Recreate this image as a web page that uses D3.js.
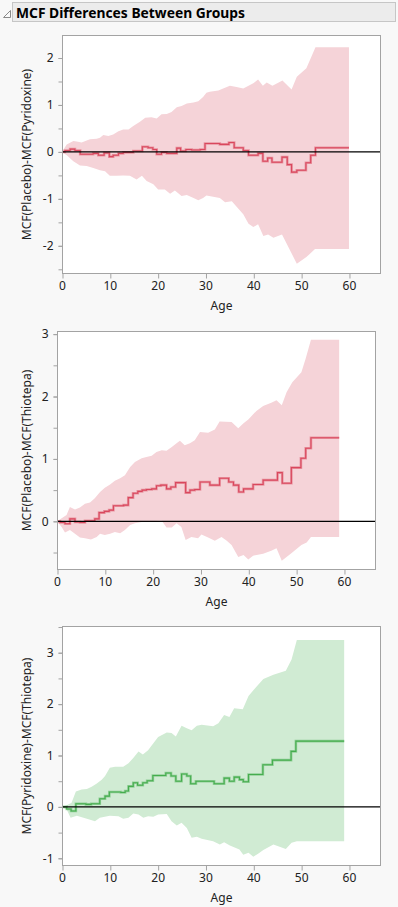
<!DOCTYPE html>
<html>
<head>
<meta charset="utf-8">
<script src="https://cdn.jsdelivr.net/npm/d3@7"></script>
<style>
  html, body { margin: 0; padding: 0; background: #f8f8f8; }
  svg { display: block; }
  text { font-family: "Noto Sans", "Open Sans", sans-serif; }
</style>
</head>
<body>
<svg id="chart" width="398" height="907"></svg>
<script>
// ---------------- DATA ----------------
const title = "MCF Differences Between Groups";
const xLabel = "Age";
const yLabels = ["MCF(Placebo)-MCF(Pyridoxine)", "MCF(Placebo)-MCF(Thiotepa)", "MCF(Pyridoxine)-MCF(Thiotepa)"];
const xTicks = [0, 10, 20, 30, 40, 50, 60];
const yTicks1 = [-2, -1, 0, 1, 2];
const yTicks2 = [0, 1, 2, 3];
const yTicks3 = [-1, 0, 1, 2, 3];

// Panel 1: Placebo - Pyridoxine
const mean1 = [[0,0],[0.6,0.03],[1.7,0.06],[2.7,0.03],[3.8,-0.05],[6.5,-0.03],[7.6,-0.07],[8.8,-0.02],[9.9,-0.1],[10.7,-0.07],[11.8,-0.03],[12.8,-0.01],[14.9,0.02],[16.8,0.11],[18.0,0.09],[19.0,0.05],[19.8,-0.05],[20.8,-0.01],[21.9,-0.03],[24.0,0.08],[24.8,0.02],[25.9,0.05],[27.1,0.04],[28.9,0.05],[29.9,0.18],[33.0,0.16],[34.9,0.2],[36.0,0.09],[37.9,0.03],[39.0,-0.07],[41.0,-0.03],[42.0,-0.2],[43.0,-0.13],[43.9,-0.22],[46.0,-0.11],[47.1,-0.27],[48.0,-0.43],[49.1,-0.39],[51.0,-0.23],[52.0,-0.07],[53.0,0.09],[60.0,0.09]];
const upper1 = [[0,0],[0.98,0.16],[2.37,0.23],[3.07,0.22],[4.1,0.2],[5.16,0.245],[5.85,0.27],[7.25,0.28],[7.94,0.30],[8.64,0.36],[9.69,0.34],[10.7,0.37],[11.8,0.44],[12.8,0.48],[13.9,0.48],[14.9,0.55],[16.3,0.64],[17.4,0.73],[18.7,0.74],[19.8,0.71],[20.8,0.80],[21.9,0.81],[22.9,0.85],[24.0,0.95],[25.0,0.98],[26.1,1.03],[27.5,1.05],[28.5,1.08],[29.5,1.17],[30.2,1.26],[30.9,1.28],[32.7,1.31],[33.7,1.35],[35.1,1.41],[36.5,1.38],[37.9,1.35],[40.0,1.46],[41.0,1.54],[42.0,1.41],[42.8,1.48],[44.0,1.41],[46.1,1.52],[48.0,1.33],[49.1,1.6],[51.1,1.78],[53.0,2.23],[60.0,2.23]];
const lower1 = [[0,0],[1.0,-0.07],[2.37,-0.2],[3.76,-0.29],[5.16,-0.30],[6.55,-0.34],[7.94,-0.39],[9.0,-0.41],[10.0,-0.51],[11.4,-0.51],[12.8,-0.50],[14.2,-0.51],[15.6,-0.59],[16.7,-0.51],[17.7,-0.62],[19.1,-0.69],[20.1,-0.80],[21.5,-0.80],[22.6,-0.89],[23.6,-0.82],[25.0,-0.94],[26.1,-0.92],[27.5,-0.98],[28.5,-1.03],[29.5,-0.98],[30.2,-0.93],[33.0,-0.98],[34.1,-1.07],[35.5,-1.05],[37.9,-1.33],[39.0,-1.53],[40.0,-1.60],[41.0,-1.54],[42.1,-1.79],[43.1,-1.76],[44.2,-1.83],[46.0,-1.76],[49.1,-2.38],[51.1,-2.24],[52.9,-2.07],[60.0,-2.07]];

// Panel 2: Placebo - Thiotepa
const mean2 = [[0,0],[0.63,-0.02],[1.67,-0.04],[2.7,0.04],[3.76,-0.01],[4.8,-0.02],[5.85,0.01],[7.9,0.04],[8.8,0.14],[9.9,0.16],[10.9,0.18],[11.8,0.25],[13.9,0.26],[14.9,0.38],[15.9,0.45],[16.9,0.48],[17.8,0.50],[18.7,0.51],[19.8,0.52],[20.8,0.57],[21.7,0.58],[22.9,0.52],[23.8,0.55],[24.8,0.62],[26.9,0.46],[27.8,0.50],[28.8,0.51],[29.9,0.63],[31.96,0.58],[34.0,0.69],[35.9,0.63],[36.9,0.58],[38.0,0.47],[39.0,0.52],[41.0,0.59],[43.1,0.66],[46.1,0.78],[47.1,0.61],[49.0,0.86],[51.0,1.01],[52.0,1.17],[53.1,1.34],[59.0,1.34]];
const upper2 = [[0,0],[0.97,0.05],[2.0,0.10],[2.7,0.23],[3.76,0.19],[4.8,0.22],[5.85,0.28],[6.9,0.30],[7.9,0.37],[9.0,0.47],[10.0,0.54],[11.1,0.59],[12.1,0.65],[13.2,0.69],[14.2,0.74],[15.3,0.87],[16.3,0.95],[17.7,1.01],[18.7,1.03],[19.8,1.05],[20.8,1.11],[21.9,1.14],[22.9,1.13],[24.0,1.19],[25.0,1.25],[25.7,1.29],[26.7,1.22],[27.8,1.25],[28.8,1.30],[29.9,1.43],[31.6,1.42],[33.0,1.47],[34.0,1.6],[36.5,1.59],[37.9,1.49],[39.0,1.57],[40.0,1.63],[41.7,1.77],[43.1,1.85],[44.8,1.9],[45.9,1.94],[47.0,1.86],[48.0,2.07],[49.2,2.23],[51.1,2.39],[52.0,2.61],[53.1,2.91],[59.0,2.91]];
const lower2 = [[0,0],[0.97,-0.09],[1.67,-0.18],[2.7,-0.14],[3.76,-0.2],[4.8,-0.26],[5.85,-0.27],[7.1,-0.29],[8.3,-0.25],[9.0,-0.2],[10.0,-0.22],[11.1,-0.2],[12.1,-0.17],[13.2,-0.19],[14.2,-0.14],[15.3,-0.06],[16.3,-0.03],[17.7,-0.01],[18.7,0],[21.9,0.01],[22.9,-0.1],[24.0,-0.1],[25.0,-0.03],[26.0,-0.09],[26.9,-0.3],[28.1,-0.25],[29.5,-0.27],[30.2,-0.21],[31.6,-0.26],[33.0,-0.31],[34.4,-0.25],[35.5,-0.31],[36.5,-0.38],[37.9,-0.57],[39.0,-0.54],[40.0,-0.61],[41.0,-0.55],[43.1,-0.52],[44.8,-0.47],[45.9,-0.43],[47.0,-0.63],[49.0,-0.51],[51.1,-0.38],[52.2,-0.34],[53.1,-0.25],[59.0,-0.25]];

// Panel 3: Pyridoxine - Thiotepa
const mean3 = [[0,0],[0.98,-0.04],[1.9,-0.08],[2.9,0.06],[5.0,0.05],[6.1,0.06],[7.9,0.16],[9.0,0.21],[9.9,0.29],[12.3,0.28],[13.2,0.31],[13.9,0.40],[14.9,0.47],[15.8,0.42],[16.9,0.47],[17.8,0.51],[19.0,0.61],[21.7,0.66],[22.8,0.60],[23.8,0.50],[25.0,0.64],[26.1,0.60],[26.9,0.45],[28.0,0.50],[31.8,0.45],[33.9,0.56],[35.0,0.50],[36.0,0.58],[37.1,0.53],[37.9,0.49],[39.0,0.63],[42.0,0.82],[44.0,0.91],[47.9,1.08],[48.9,1.28],[59.0,1.28]];
const upper3 = [[0,0],[0.98,0.03],[2.0,0.08],[2.9,0.30],[4.1,0.34],[5.2,0.35],[6.2,0.39],[7.2,0.45],[8.3,0.53],[9.0,0.6],[10.0,0.76],[11.1,0.78],[12.8,0.78],[13.9,0.85],[14.9,0.95],[16.0,1.08],[16.9,1.02],[18.0,1.1],[19.1,1.24],[20.1,1.36],[21.9,1.45],[22.9,1.44],[23.8,1.37],[25.0,1.58],[26.1,1.53],[27.1,1.49],[28.2,1.58],[29.2,1.6],[31.6,1.57],[32.7,1.63],[33.9,1.79],[35.0,1.75],[36.0,1.92],[37.8,1.90],[39.0,2.16],[40.1,2.28],[42.1,2.49],[44.2,2.57],[46.8,2.65],[48.0,2.87],[49.1,3.25],[59.0,3.25]];
const lower3 = [[0,0],[0.98,-0.05],[1.8,-0.21],[3.1,-0.17],[5.2,-0.23],[6.9,-0.28],[7.9,-0.21],[10.0,-0.17],[11.8,-0.18],[12.8,-0.23],[13.9,-0.21],[14.9,-0.13],[16.0,-0.15],[17.0,-0.21],[18.0,-0.18],[19.1,-0.19],[20.1,-0.15],[21.9,-0.14],[22.9,-0.28],[24.0,-0.36],[25.0,-0.31],[26.1,-0.41],[27.1,-0.60],[28.2,-0.58],[29.2,-0.62],[31.6,-0.67],[33.0,-0.73],[33.9,-0.69],[35.1,-0.75],[37.1,-0.83],[37.9,-0.93],[39.0,-0.89],[40.0,-0.97],[41.0,-0.91],[42.1,-0.84],[44.2,-0.73],[46.8,-0.82],[48.0,-0.70],[49.1,-0.67],[59.0,-0.67]];

// ---------------- LAYOUT ----------------
const svg = d3.select("#chart");

// header
svg.append("rect").attr("x", 12.5).attr("y", 2.5).attr("width", 383).attr("height", 19)
  .attr("fill", "#ececec").attr("stroke", "#c6c6c6");
svg.append("path").attr("d", "M3.5,17.5 L10.5,10.5 L10.5,17.5 Z")
  .attr("fill", "#fafafa").attr("stroke", "#8a8a8a");
svg.append("text").attr("x", 16).attr("y", 17.5).text(title)
  .attr("font-size", "15px").attr("font-weight", "bold").attr("fill", "#000")
  .attr("textLength", 229).attr("lengthAdjust", "spacingAndGlyphs");

const panels = [
  { left: 62, right: 381, top: 35, bottom: 274, ydom: [-2.6, 2.49], yticks: yTicks1, mean: mean1, upper: upper1, lower: lower1, band: "#f5d3d8", line: "#d9475d", ylab: yLabels[0] },
  { left: 57, right: 376, top: 331, bottom: 570, ydom: [-0.78, 3.05], yticks: yTicks2, mean: mean2, upper: upper2, lower: lower2, band: "#f5d3d8", line: "#d9475d", ylab: yLabels[1] },
  { left: 62, right: 381, top: 626, bottom: 866, ydom: [-1.15, 3.52], yticks: yTicks3, mean: mean3, upper: upper3, lower: lower3, band: "#d0ebd3", line: "#45ad4e", ylab: yLabels[2] }
];

panels.forEach(p => {
  const x = d3.scaleLinear().domain([0, 66.7]).range([p.left, p.right]);
  const y = d3.scaleLinear().domain(p.ydom).range([p.bottom, p.top]);
  const g = svg.append("g");

  g.append("rect").attr("x", p.left).attr("y", p.top)
    .attr("width", p.right - p.left).attr("height", p.bottom - p.top).attr("fill", "#fff");

  // band polygon
  const poly = p.upper.concat(p.lower.slice().reverse());
  g.append("path").datum(poly)
    .attr("d", d3.line().x(d => x(d[0])).y(d => y(d[1])).curve(d3.curveLinearClosed))
    .attr("fill", p.band).attr("stroke", "none");

  // mean step line
  g.append("path").datum(p.mean)
    .attr("d", d3.line().x(d => x(d[0])).y(d => y(d[1])).curve(d3.curveStepAfter))
    .attr("fill", "none").attr("stroke", p.line).attr("stroke-opacity", 0.45).attr("stroke-width", 2.6);
  g.append("path").datum(p.mean)
    .attr("d", d3.line().x(d => x(d[0])).y(d => y(d[1])).curve(d3.curveStepAfter))
    .attr("fill", "none").attr("stroke", p.line).attr("stroke-width", 1.1);

  // zero reference line
  g.append("line").attr("x1", p.left).attr("x2", p.right)
    .attr("y1", y(0)).attr("y2", y(0)).attr("stroke", "#000").attr("stroke-width", 1.3);

  // frame
  g.append("rect").attr("x", p.left + 0.5).attr("y", p.top + 0.5)
    .attr("width", p.right - p.left - 1).attr("height", p.bottom - p.top - 1)
    .attr("fill", "none").attr("stroke", "#a3a3a3");

  // y minor ticks
  const minor = d3.range(Math.ceil(p.ydom[0] * 2) / 2, p.ydom[1], 0.5);
  const yMinor = g.append("g").attr("transform", `translate(${p.left + 0.5},0)`)
    .call(d3.axisLeft(y).tickValues(minor).tickSize(4).tickFormat(""));
  yMinor.select(".domain").remove();
  yMinor.selectAll("line").attr("stroke", "#a3a3a3");

  // y axis labels
  const yAx = g.append("g").attr("transform", `translate(${p.left + 0.5},0)`)
    .call(d3.axisLeft(y).tickValues(p.yticks).tickSize(4).tickPadding(5).tickFormat(d3.format("d")));
  yAx.select(".domain").remove();
  yAx.selectAll("line").attr("stroke", "#a3a3a3");
  yAx.selectAll("text").attr("font-size", "12px").attr("fill", "#222")
    .attr("font-family", "'Noto Sans', sans-serif").text(d => d < 0 ? "-" + Math.abs(d) : d);

  // x axis
  const xAx = g.append("g").attr("transform", `translate(0,${p.bottom - 0.5})`)
    .call(d3.axisBottom(x).tickValues(xTicks).tickSize(5).tickPadding(3));
  xAx.select(".domain").remove();
  xAx.selectAll("line").attr("stroke", "#a3a3a3").attr("transform", "translate(0.5,0)");
  xAx.selectAll("text").attr("font-size", "12px").attr("fill", "#222")
    .attr("font-family", "'Noto Sans', sans-serif");

  // axis titles
  g.append("text").attr("x", (p.left + p.right) / 2).attr("y", p.bottom + 36)
    .attr("text-anchor", "middle").attr("font-size", "12px").attr("fill", "#222").text(xLabel);
  g.append("text")
    .attr("transform", `translate(31,${(p.top + p.bottom) / 2}) rotate(-90)`)
    .attr("text-anchor", "middle").attr("font-size", "12px").attr("fill", "#222").text(p.ylab);
});
</script>
</body>
</html>
